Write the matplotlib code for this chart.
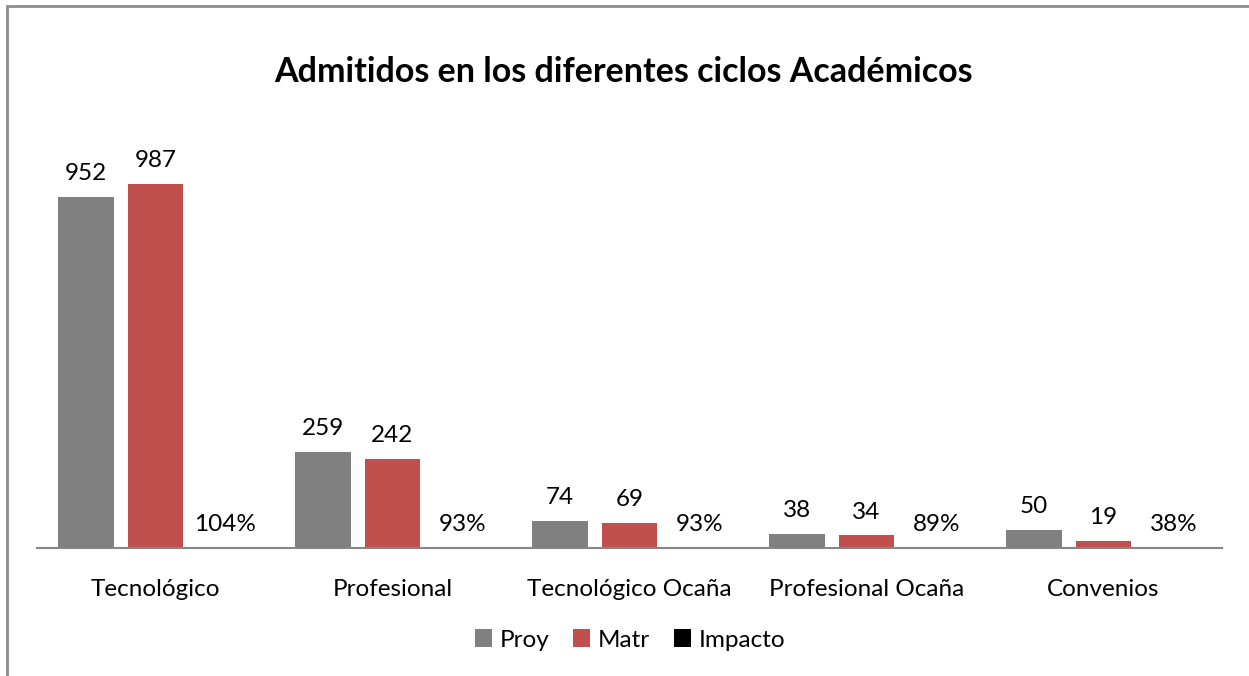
import matplotlib.pyplot as plt
import numpy as np
from matplotlib.patches import Rectangle

categories = ["Tecnológico", "Profesional", "Tecnológico Ocaña", "Profesional Ocaña", "Convenios"]
proy = [952, 259, 74, 38, 50]
matr = [987, 242, 69, 34, 19]
impacto = [1.04, 0.93, 0.93, 0.89, 0.38]

plt.rcParams['font.family'] = ['Lato', 'DejaVu Sans']

W, H = 1249, 676
fig = plt.figure(figsize=(W / 100, H / 100), dpi=100)
# plot area: x 37..1222, y 105..548 (pixels)
ax = fig.add_axes([37 / W, 1 - 548 / H, (1222 - 37) / W, (548 - 105) / H])

x = np.arange(len(categories))
bw = 0.236
off = 0.295
b1 = ax.bar(x - off, proy, bw, color='#808080', label='Proy')
b2 = ax.bar(x, matr, bw, color='#C0504D', label='Matr')
b3 = ax.bar(x + off, impacto, bw, color='#000000', label='Impacto')

fs = 17.5
for r, v in zip(b1, proy):
    ax.text(r.get_x() + r.get_width() / 2, v + 35, str(v), ha='center', va='bottom', fontsize=fs)
for r, v in zip(b2, matr):
    ax.text(r.get_x() + r.get_width() / 2, v + 35, str(v), ha='center', va='bottom', fontsize=fs)
for r, v in zip(b3, impacto):
    ax.text(r.get_x() + r.get_width() / 2, v + 35, f"{round(v * 100)}%", ha='center', va='bottom', fontsize=fs)

ax.set_xlim(-0.5, len(categories) - 0.5)
ax.set_ylim(0, 1200)
ax.set_yticks([])
ax.set_xticks(x)
ax.set_xticklabels(categories, fontsize=fs)
ax.tick_params(axis='x', length=0, pad=22)
for s in ['top', 'right', 'left']:
    ax.spines[s].set_visible(False)
ax.spines['bottom'].set_color('#868686')
ax.spines['bottom'].set_linewidth(1.5)

fig.text(623 / W, 1 - 72 / H, "Admitidos en los diferentes ciclos Académicos",
         ha='center', va='center', fontsize=24.5, fontweight='bold')

fig.legend(handles=[b1, b2, b3], loc='center', bbox_to_anchor=(630 / W, 1 - 640 / H),
           ncol=3, frameon=False, fontsize=fs, handlelength=0.7, handleheight=0.7,
           handletextpad=0.3, columnspacing=1.0)

fig.patches.append(Rectangle((6.5 / W, -0.1), 1.2, 1 - 6 / H + 0.1, transform=fig.transFigure,
                             fill=False, edgecolor='#8C8C8C', linewidth=2, figure=fig))

fig.savefig('out.png', dpi=100, facecolor='white')
